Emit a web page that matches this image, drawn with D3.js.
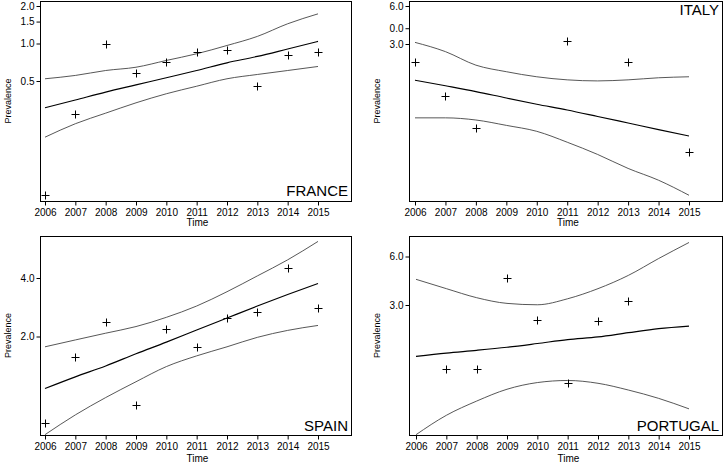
<!DOCTYPE html>
<html>
<head>
<meta charset="utf-8">
<script src="https://cdn.jsdelivr.net/npm/d3@7"></script>
<style>
  body { margin: 0; background: #fff; }
  text { font-family: "Liberation Sans", Arial, sans-serif; fill: #000; }
</style>
</head>
<body>
<div id="chart-area"></div>
<script>
// data
var years = [2006, 2007, 2008, 2009, 2010, 2011, 2012, 2013, 2014, 2015];

var franceObs   = [0.061, 0.273, 1.00, 0.578, 0.708, 0.851, 0.879, 0.460, 0.816, 0.851];
var franceFit   = [0.305, 0.352, 0.407, 0.465, 0.531, 0.607, 0.700, 0.787, 0.904, 1.04];
var franceUpper = [0.521, 0.554, 0.607, 0.645, 0.731, 0.827, 0.964, 1.14, 1.44, 1.73];
var franceLower = [0.177, 0.227, 0.276, 0.334, 0.395, 0.454, 0.521, 0.564, 0.607, 0.654];
var franceTicks = [0.5, 1.0, 1.5, 2.0];
var franceTickLabels = ["0.5", "1.0", "1.5", "2.0"];

var italyObs   = [2.17, 1.16, 0.651, null, null, 3.19, null, 2.17, null, 0.42];
var italyFit   = [1.55, 1.40, 1.26, 1.12, 1.00, 0.90, 0.80, 0.71, 0.63, 0.56];
var italyUpper = [3.09, 2.61, 2.04, 1.81, 1.65, 1.56, 1.53, 1.56, 1.62, 1.65];
var italyLower = [0.78, 0.78, 0.75, 0.68, 0.61, 0.50, 0.40, 0.31, 0.25, 0.19];
var italyTicks = [3, 4, 6];
var italyTickLabels = ["3.0", "0.0", "6.0"];

var spainObs   = [0.72, 1.57, 2.37, 0.89, 2.19, 1.76, 2.50, 2.67, 4.52, 2.80];
var spainFit   = [1.08, 1.24, 1.41, 1.63, 1.87, 2.16, 2.49, 2.87, 3.29, 3.75];
var spainUpper = [1.77, 1.92, 2.08, 2.25, 2.51, 2.87, 3.40, 4.10, 4.96, 6.17];
var spainLower = [0.625, 0.79, 0.97, 1.17, 1.40, 1.59, 1.77, 1.98, 2.15, 2.28];
var spainTicks = [2, 4];
var spainTickLabels = ["2.0", "4.0"];

var portugalObs   = [null, 1.20, 1.20, 4.40, 2.42, 0.98, 2.38, 3.16, null, null];
var portugalFit   = [1.44, 1.51, 1.57, 1.64, 1.73, 1.83, 1.90, 2.02, 2.14, 2.22];
var portugalUpper = [4.33, 3.79, 3.33, 3.07, 3.01, 3.28, 3.79, 4.58, 5.83, 7.33];
var portugalLower = [0.47, 0.62, 0.76, 0.90, 0.99, 1.02, 0.98, 0.89, 0.79, 0.68];
var portugalTicks = [3, 6];
var portugalTickLabels = ["3.0", "6.0"];

var width = 725, height = 463;

var svg = d3.select("#chart-area")
  .append("svg")
    .attr("width", width)
    .attr("height", height);

// draw one panel
function drawPanel(p) {
    var g = svg.append("g");

    var x = d3.scaleLinear()
      .domain([2006, 2015])
      .range([p.x0, p.x1]);

    var y = d3.scaleLog()
      .domain(p.yDomain)
      .range(p.yRange);

    // frame
    g.append("rect")
      .attr("x", p.left + 0.5)
      .attr("y", p.top + 0.5)
      .attr("width", p.right - p.left)
      .attr("height", p.bottom - p.top)
      .attr("fill", "none")
      .attr("stroke", "#000")
      .attr("stroke-width", 1);

    // y axis
    var yAxis = g.append("g")
      .attr("transform", "translate(" + (p.left + 0.5) + ",0)")
      .call(d3.axisLeft(y)
        .tickValues(p.ticks)
        .tickFormat(function(d, i) { return p.tickLabels[i]; })
        .tickSize(4)
        .tickPadding(2));
    yAxis.select(".domain").remove();
    yAxis.selectAll("text")
      .attr("font-size", "10px")
      .attr("font-family", "Liberation Sans, Arial, sans-serif");

    // x axis
    var xAxis = g.append("g")
      .attr("transform", "translate(0," + (p.bottom + 0.5) + ")")
      .call(d3.axisBottom(x)
        .tickValues(years)
        .tickFormat(d3.format("d"))
        .tickSize(4)
        .tickPadding(3));
    xAxis.select(".domain").remove();
    xAxis.selectAll("text")
      .attr("font-size", "10px")
      .attr("font-family", "Liberation Sans, Arial, sans-serif");

    //labels
    g.append("text")
      .attr("transform", "rotate(-90)")
      .attr("x", -(p.top + p.bottom) / 2)
      .attr("y", p.ylabX)
      .attr("font-size", "9px")
      .attr("text-anchor", "middle")
      .text("Prevalence");

    g.append("text")
      .attr("x", (p.x0 + p.x1) / 2 + 16)
      .attr("y", p.timeY)
      .attr("font-size", "10px")
      .attr("text-anchor", "middle")
      .text("Time");

    g.append("text")
      .attr("x", p.right - 3)
      .attr("y", p.nameY)
      .attr("font-size", "15px")
      .attr("text-anchor", "end")
      .text(p.name);

    var curve = d3.line()
      .x(function(d, i) { return x(years[i]); })
      .y(function(d) { return y(d); })
      .curve(d3.curveMonotoneX);

    g.append("path")
      .attr("d", curve(p.upper))
      .attr("fill", "none")
      .attr("stroke", "#444")
      .attr("stroke-width", 0.9);

    g.append("path")
      .attr("d", curve(p.lower))
      .attr("fill", "none")
      .attr("stroke", "#444")
      .attr("stroke-width", 0.9);

    g.append("path")
      .attr("d", curve(p.fit))
      .attr("fill", "none")
      .attr("stroke", "#000")
      .attr("stroke-width", 1.2);

    // observed points as plus signs
    var pts = years.map(function(yr, i) { return {year: yr, v: p.obs[i]}; })
      .filter(function(d) { return d.v != null; });

    g.selectAll(".pt")
      .data(pts)
      .enter()
      .append("path")
        .attr("class", "pt")
        .attr("d", function(d) {
            var cx = Math.round(x(d.year)) + 0.5, cy = Math.round(y(d.v)) + 0.5;
            return "M" + (cx - 4) + "," + cy + "H" + (cx + 4) +
                   "M" + cx + "," + (cy - 4) + "V" + (cy + 4);
        })
        .attr("stroke", "#000")
        .attr("stroke-width", 1);
}

drawPanel({
    name: "FRANCE", obs: franceObs, fit: franceFit, upper: franceUpper, lower: franceLower,
    ticks: franceTicks, tickLabels: franceTickLabels,
    left: 40, right: 351, top: 1, bottom: 201,
    x0: 45, x1: 318, yDomain: [0.5, 2], yRange: [81, 6],
    ylabX: 11, timeY: 226, nameY: 196
});

drawPanel({
    name: "ITALY", obs: italyObs, fit: italyFit, upper: italyUpper, lower: italyLower,
    ticks: italyTicks, tickLabels: italyTickLabels,
    left: 409, right: 722, top: 1, bottom: 201,
    x0: 415, x1: 689, yDomain: [3, 6], yRange: [44, 6],
    ylabX: 380, timeY: 226, nameY: 15
});

drawPanel({
    name: "SPAIN", obs: spainObs, fit: spainFit, upper: spainUpper, lower: spainLower,
    ticks: spainTicks, tickLabels: spainTickLabels,
    left: 40, right: 351, top: 236, bottom: 435,
    x0: 45, x1: 318, yDomain: [2, 4], yRange: [336.5, 278],
    ylabX: 11, timeY: 462, nameY: 431
});

drawPanel({
    name: "PORTUGAL", obs: portugalObs, fit: portugalFit, upper: portugalUpper, lower: portugalLower,
    ticks: portugalTicks, tickLabels: portugalTickLabels,
    left: 409, right: 722, top: 236, bottom: 435,
    x0: 416, x1: 689, yDomain: [3, 6], yRange: [305, 256.5],
    ylabX: 380, timeY: 462, nameY: 431
});
</script>
</body>
</html>
